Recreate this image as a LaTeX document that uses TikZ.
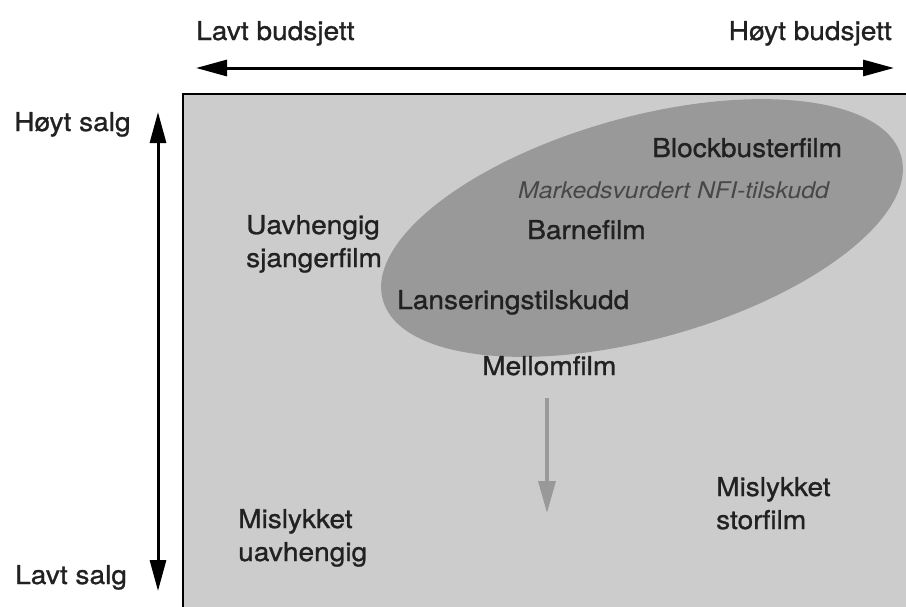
\documentclass[tikz,border=0pt]{standalone}
\usepackage{fontspec}
\setmainfont{TeX Gyre Heros}[FakeStretch=1.08, FakeBold=1]
\newfontfamily\policefine{TeX Gyre Heros}[FakeStretch=1.08]
\usetikzlibrary{arrows.meta}
\definecolor{grispale}{rgb}{0.8, 0.8, 0.8}
\definecolor{grisellipse}{rgb}{0.6, 0.6, 0.6}
\definecolor{noirtexte}{rgb}{0.13, 0.13, 0.13}
\newcommand{\grandtexte}{\fontsize{26}{33}\selectfont}
\newcommand{\petittexte}{\policefine\fontsize{23}{28}\selectfont\itshape}

\begin{document}
\begin{tikzpicture}[x=1pt, y=-1pt]
		% STYLES
		\tikzstyle{axe} = [line width=3pt, draw=black, {Triangle[length=31pt, width=16pt]}-{Triangle[length=31pt, width=16pt]}]
		\tikzstyle{tendance} = [line width=3.5pt, draw=grisellipse, -{Triangle[length=32pt, width=17pt]}]
		\tikzstyle{fond} = [fill=grispale, draw=black, line width=2pt]
		\tikzstyle{zone} = [fill=grisellipse, draw=none]
		\tikzstyle{etiquette} = [inner sep=0pt, anchor=base west, align=left, text=noirtexte, font=\grandtexte]
		\tikzstyle{soustitre} = [inner sep=0pt, anchor=base west, text=black!72, font=\petittexte]

		\useasboundingbox (0, 0) rectangle (906, 606);

		% FOND
		\path[fond] (183, 94) rectangle (912, 612);

		% ZONE : ELLIPSE
		\path[zone, rotate around={15.5:(642, 228)}]
			(642, 228) ellipse [x radius=269, y radius=111];

		% AXES
		\coordinate (gauche) at (196, 68);
		\coordinate (droite) at (894, 68);
		\coordinate (haut) at (158, 112);
		\coordinate (bas) at (158, 591);
		\path[axe] (gauche) -- (droite); % X
		\path[axe] (haut) -- (bas); % Y
		\node[etiquette] (lavtbud) at (196, 40) {Lavt budsjett};
		\node[etiquette, anchor=base east] (hoytbud) at (892, 40) {Høyt budsjett};
		\node[etiquette] (hoytsalg) at (14, 131) {Høyt salg};
		\node[etiquette] (lavtsalg) at (15, 584) {Lavt salg};

		% FILMER (base = last line)
		\node[etiquette] (uavhengig) at (246, 267) {Uavhengig\\sjangerfilm};
		\node[etiquette] (blockbuster) at (652, 157) {Blockbusterfilm};
		\node[soustitre] (nfi) at (518, 198) {Markedsvurdert NFI-tilskudd};
		\node[etiquette] (barnefilm) at (527, 239) {Barnefilm};
		\node[etiquette] (lansering) at (397, 309) {Lanseringstilskudd};
		\node[etiquette] (mellomfilm) at (482, 375) {Mellomfilm};
		\node[etiquette] (storfilm) at (716, 529) {Mislykket\\storfilm};
		\node[etiquette] (mislykket) at (238, 561) {Mislykket\\uavhengig};

		% TENDANCE
		\coordinate (depart) at (547, 398);
		\coordinate (arrivee) at (547, 513);
		\path[tendance] (depart) -- (arrivee);

	\end{tikzpicture}
\end{document}
